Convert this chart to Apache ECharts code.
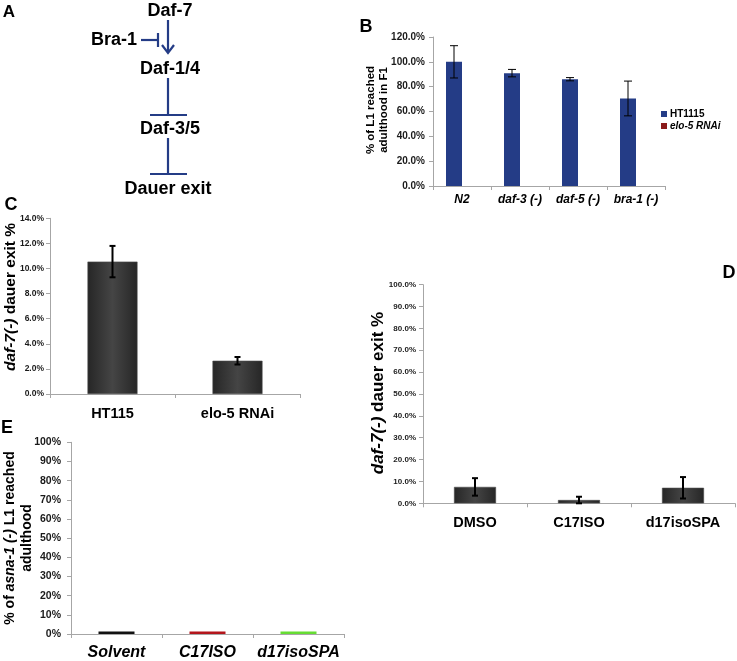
<!DOCTYPE html>
<html>
<head>
<meta charset="utf-8">
<script src="https://cdn.jsdelivr.net/npm/echarts@6/dist/echarts.min.js"></script>
<style>html,body{margin:0;padding:0;background:#fff}#c{width:737px;height:661px}</style>
</head>
<body>
<div id="c"></div>
<script>
// ---- data ----
const bCategories = ['N2', 'daf-3 (-)', 'daf-5 (-)', 'bra-1 (-)'];
const bHT1115 = [100.0, 90.9, 86.0, 70.5];
const bHT1115Err = [13.0, 3.0, 1.3, 14.0];
const bElo5 = ['-', '-', '-', '-'];
const bTicks = [0, 20, 40, 60, 80, 100, 120];

const cCategories = ['HT115', 'elo-5 RNAi'];
const cValues = [10.55, 2.65];
const cErr = [1.25, 0.3];

const dCategories = ['DMSO', 'C17ISO', 'd17isoSPA'];
const dValues = [7.5, 1.5, 7.1];
const dErr = [4.0, 1.5, 4.9];

const eCategories = ['Solvent', 'C17ISO', 'd17isoSPA'];
const eValues = [1.3, 1.3, 1.3];

// ---- styles ----
const FF = 'Arial, "Liberation Sans", Helvetica, sans-serif';
const NAVY = '#243c86';
const eColors = ['#111111', '#b3151b', '#66dd33'];
const darkGrad = () => new echarts.graphic.LinearGradient(0, 0, 1, 0, [
  {offset: 0, color: '#262626'}, {offset: 0.5, color: '#454545'}, {offset: 1, color: '#262626'}]);

function errRender(offsetPx, capHalf, lw) {
  return function (params, api) {
    const x = api.value(0), v = api.value(1), e = api.value(2);
    const hi = api.coord([x, v + e]);
    const lo = api.coord([x, Math.max(0, v - e)]);
    const xp = hi[0] + offsetPx;
    const st = {stroke: '#000', lineWidth: lw};
    return {type: 'group', children: [
      {type: 'line', shape: {x1: xp, y1: hi[1], x2: xp, y2: lo[1]}, style: st},
      {type: 'line', shape: {x1: xp - capHalf, y1: hi[1], x2: xp + capHalf, y2: hi[1]}, style: st},
      {type: 'line', shape: {x1: xp - capHalf, y1: lo[1], x2: xp + capHalf, y2: lo[1]}, style: st}
    ]};
  };
}
const errData = (vals, errs) => vals.map((v, i) => [i, v, errs[i]]);

function yAx(gi, max, interval, fmt, fs, margin) {
  return {
    gridIndex: gi, type: 'value', min: 0, max: max, interval: interval,
    axisLine: {show: true, lineStyle: {color: '#a6a6a6'}},
    axisTick: {show: true, length: 4, lineStyle: {color: '#a6a6a6'}},
    splitLine: {show: false},
    axisLabel: {formatter: fmt, fontFamily: FF, fontWeight: 'bold', fontSize: fs, color: '#1a1a1a', margin: margin}
  };
}
function xAx(gi, cats, fs, italic, margin) {
  return {
    gridIndex: gi, type: 'category', data: cats,
    axisLine: {show: true, lineStyle: {color: '#a6a6a6'}},
    axisTick: {show: true, length: 4, alignWithLabel: false, lineStyle: {color: '#a6a6a6'}},
    axisLabel: {fontFamily: FF, fontWeight: 'bold', fontStyle: italic ? 'italic' : 'normal', fontSize: fs, color: '#000', margin: margin, interval: 0}
  };
}

const chart = echarts.init(document.getElementById('c'), null, {renderer: 'canvas'});

const txt = (x, y, text, size, extra) => Object.assign({
  type: 'text', x: x, y: y,
  style: {text: text, fontFamily: FF, fontWeight: 'bold', fontSize: size, fill: '#000', align: 'center', verticalAlign: 'middle'}
}, extra || {});
const seg = (x1, y1, x2, y2) => ({type: 'line', shape: {x1, y1, x2, y2}, style: {stroke: NAVY, lineWidth: 2.2}});

const rotTitle = (x, y, text, size, lh) => ({
  type: 'text', x: x, y: y, rotation: Math.PI / 2,
  style: {
    text: text, fontFamily: FF, fontWeight: 'bold', fontSize: size, fill: '#000', lineHeight: lh,
    align: 'center', verticalAlign: 'middle',
    rich: {
      b: {fontFamily: FF, fontWeight: 'bold', fontSize: size, fill: '#000', lineHeight: lh},
      i: {fontFamily: FF, fontWeight: 'bold', fontStyle: 'italic', fontSize: size, fill: '#000', lineHeight: lh}
    }
  }
});

const option = {
  animation: false,
  backgroundColor: '#fff',
  grid: [
    {left: 433, top: 37, width: 232, height: 149},
    {left: 50, top: 218.3, width: 250, height: 175.7},
    {left: 423, top: 284.7, width: 312, height: 218.6},
    {left: 71, top: 442.3, width: 273, height: 191.7}
  ],
  xAxis: [
    xAx(0, bCategories, 12, true, 8),
    xAx(1, cCategories, 14.5, false, 12),
    xAx(2, dCategories, 14.5, false, 12),
    xAx(3, eCategories, 16, true, 11)
  ],
  yAxis: [
    yAx(0, 120, 20, v => v.toFixed(1) + '%', 10, 8),
    yAx(1, 14, 2, v => v.toFixed(1) + '%', 8.5, 6),
    yAx(2, 100, 10, v => v.toFixed(1) + '%', 8, 7),
    yAx(3, 100, 10, v => v.toFixed(0) + '%', 10.5, 10)
  ],
  legend: {
    data: ['HT1115', 'elo-5 RNAi'], orient: 'vertical', left: 656, top: 104,
    itemWidth: 6, itemHeight: 6, itemGap: 2, icon: 'rect',
    formatter: n => n === 'elo-5 RNAi' ? '{i|' + n + '}' : '{n|' + n + '}',
    textStyle: {
      fontFamily: FF, fontWeight: 'bold', fontSize: 10, color: '#000', padding: [0, 0, 0, -2],
      rich: {
        n: {fontFamily: FF, fontWeight: 'bold', fontSize: 10, color: '#000'},
        i: {fontFamily: FF, fontWeight: 'bold', fontStyle: 'italic', fontSize: 10, color: '#000'}
      }
    }
  },
  series: [
    {name: 'HT1115', type: 'bar', xAxisIndex: 0, yAxisIndex: 0, data: bHT1115, barWidth: 16, barGap: '0%',
      itemStyle: {color: NAVY}},
    {name: 'elo-5 RNAi', type: 'bar', xAxisIndex: 0, yAxisIndex: 0, data: bElo5, barWidth: 16, barGap: '0%',
      itemStyle: {color: '#8b1a1a'}},
    {type: 'custom', xAxisIndex: 0, yAxisIndex: 0, renderItem: errRender(-8, 4, 1), data: errData(bHT1115, bHT1115Err), z: 5},

    {type: 'bar', xAxisIndex: 1, yAxisIndex: 1, data: cValues, barWidth: 50,
      itemStyle: {color: darkGrad(), borderColor: '#4a4a4a', borderWidth: 0.6}},
    {type: 'custom', xAxisIndex: 1, yAxisIndex: 1, renderItem: errRender(0, 3, 2), data: errData(cValues, cErr), z: 5},

    {type: 'bar', xAxisIndex: 2, yAxisIndex: 2, data: dValues, barWidth: 42,
      itemStyle: {color: darkGrad(), borderColor: '#4a4a4a', borderWidth: 0.6}},
    {type: 'custom', xAxisIndex: 2, yAxisIndex: 2, renderItem: errRender(0, 3, 2), data: errData(dValues, dErr), z: 5},

    {type: 'bar', xAxisIndex: 3, yAxisIndex: 3, data: eValues, barWidth: 36,
      itemStyle: {color: p => eColors[p.dataIndex]}}
  ],
  graphic: [
    // panel letters
    txt(9, 12, 'A', 17),
    txt(366, 27, 'B', 18),
    txt(11, 205, 'C', 18),
    txt(729, 273, 'D', 18),
    txt(7, 428, 'E', 18),
    // panel A pathway
    txt(170, 11, 'Daf-7', 18),
    txt(114, 40, 'Bra-1', 18),
    txt(170, 69, 'Daf-1/4', 18),
    txt(170, 129, 'Daf-3/5', 18),
    txt(168, 189, 'Dauer exit', 18),
    seg(168, 20, 168, 52),
    {type: 'polyline', shape: {points: [[162, 45], [168, 53], [174, 45]]}, style: {stroke: NAVY, lineWidth: 2.2, fill: null}},
    seg(141, 40, 158, 40),
    seg(158, 33, 158, 47),
    seg(168, 78, 168, 115),
    seg(150, 115, 187, 115),
    seg(168, 138, 168, 174),
    seg(150, 174, 187, 174),
    // axis titles
    rotTitle(377, 110, '{b|% of L1 reached}\n{b|adulthood in F1}', 11.5, 13),
    rotTitle(11, 297, '{i|daf-7(-)}{b| dauer exit %}', 15.5, 18),
    rotTitle(378, 393, '{i|daf-7(-)}{b| dauer exit %}', 17, 20),
    rotTitle(19, 538, '{b|% of }{i|asna-1 (-)}{b| L1 reached}\n{b|adulthood}', 14, 17)
  ]
};
chart.setOption(option);
</script>
</body>
</html>
